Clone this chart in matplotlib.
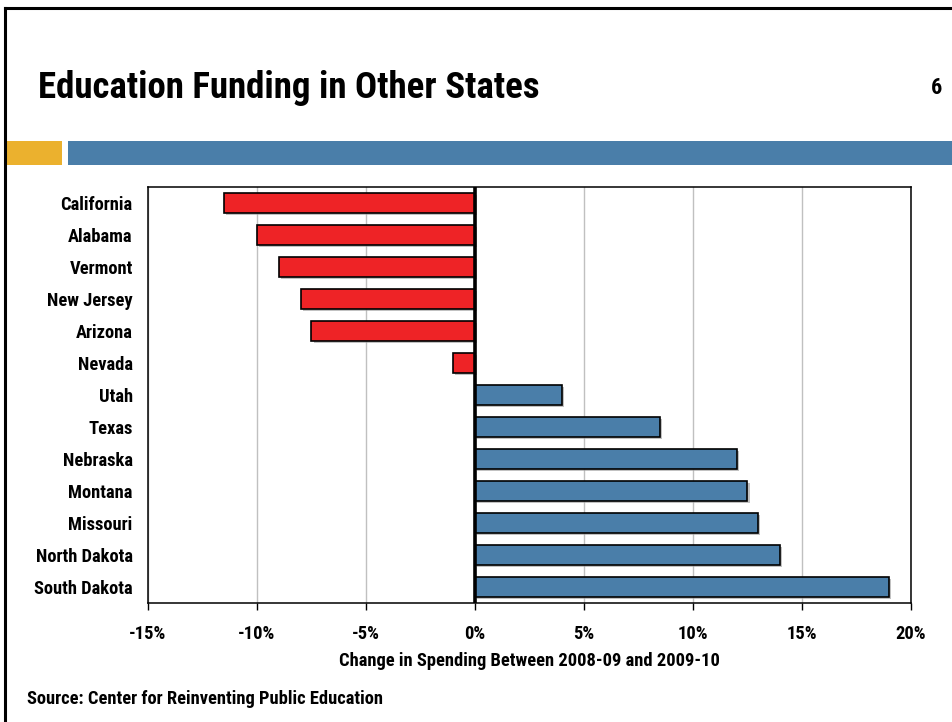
import matplotlib
matplotlib.use("Agg")
import matplotlib.pyplot as plt
import matplotlib.patheffects as pe
from matplotlib.ticker import FuncFormatter
from matplotlib.patches import Rectangle
from matplotlib.lines import Line2D

states = ["California", "Alabama", "Vermont", "New Jersey", "Arizona", "Nevada",
          "Utah", "Texas", "Nebraska", "Montana", "Missouri", "North Dakota", "South Dakota"]
changes = [-11.5, -10.0, -9.0, -8.0, -7.5, -1.0, 4.0, 8.5, 12.0, 12.5, 13.0, 14.0, 19.0]
xticks = [-15, -10, -5, 0, 5, 10, 15, 20]

FONT = ["Roboto Condensed", "PT Sans Narrow", "DejaVu Sans"]
plt.rcParams['font.family'] = FONT

RED = "#EE2326"
BLUE = "#4A7EA9"
ORANGE = "#EBB12E"

fig = plt.figure(figsize=(9.53, 7.22), dpi=100)
W, H = 953, 722

def fx(x): return x / W
def fy(y): return 1 - y / H

# slide frame
fig.add_artist(Line2D([fx(4.5), fx(4.5)], [fy(8), 0], color="black", lw=2.2, transform=fig.transFigure))
fig.add_artist(Line2D([fx(4.5), 1], [fy(8), fy(8)], color="black", lw=2.2, transform=fig.transFigure))

# decorative bars
fig.add_artist(Rectangle((fx(5), fy(165)), fx(62) - fx(5), fy(141) - fy(165),
                         color=ORANGE, transform=fig.transFigure, lw=0))
fig.add_artist(Rectangle((fx(68), fy(165)), 1 - fx(68), fy(141) - fy(165),
                         color=BLUE, transform=fig.transFigure, lw=0))

fig.text(fx(38), fy(88), "Education Funding in Other States", fontsize=26.6, fontweight="bold",
         ha="left", va="center")
fig.text(fx(942), fy(88), "6", fontsize=16, fontweight="bold", ha="right", va="center")

LS = 13.3
ax = fig.add_axes([fx(148), fy(603), fx(911) - fx(148), fy(187) - fy(603)])
ypos = list(range(len(states)))
colors = [RED if v < 0 else BLUE for v in changes]
bars = ax.barh(ypos, changes, height=0.62, color=colors, edgecolor="black", linewidth=1.2, zorder=3)
for b in bars:
    b.set_path_effects([pe.SimplePatchShadow(offset=(1.5, -1.5), shadow_rgbFace="#999999", alpha=0.6), pe.Normal()])

ax.set_xlim(-15, 20)
ax.set_ylim(len(states) - 0.5, -0.5)
ax.set_xticks(xticks)
ax.xaxis.set_major_formatter(FuncFormatter(lambda v, p: f"{int(v)}%"))
ax.set_yticks(ypos)
ax.set_yticklabels(states)
ax.tick_params(axis="y", length=0, pad=11, labelsize=LS)
ax.tick_params(axis="x", length=5, width=1, pad=11, labelsize=LS, direction="out")
for lab in ax.get_xticklabels() + ax.get_yticklabels():
    lab.set_fontweight("bold")
ax.grid(axis="x", color="#C0C0C0", lw=1, zorder=0)
ax.axvline(0, color="black", lw=2.6, zorder=4)
for s in ax.spines.values():
    s.set_color("black")
    s.set_linewidth(1.1)
ax.set_xlabel("Change in Spending Between 2008-09 and 2009-10", fontsize=LS, fontweight="bold", labelpad=6)

fig.text(fx(27), fy(699), "Source: Center for Reinventing Public Education", fontsize=LS,
         fontweight="bold", ha="left", va="center")

fig.savefig("out.png", dpi=100)
